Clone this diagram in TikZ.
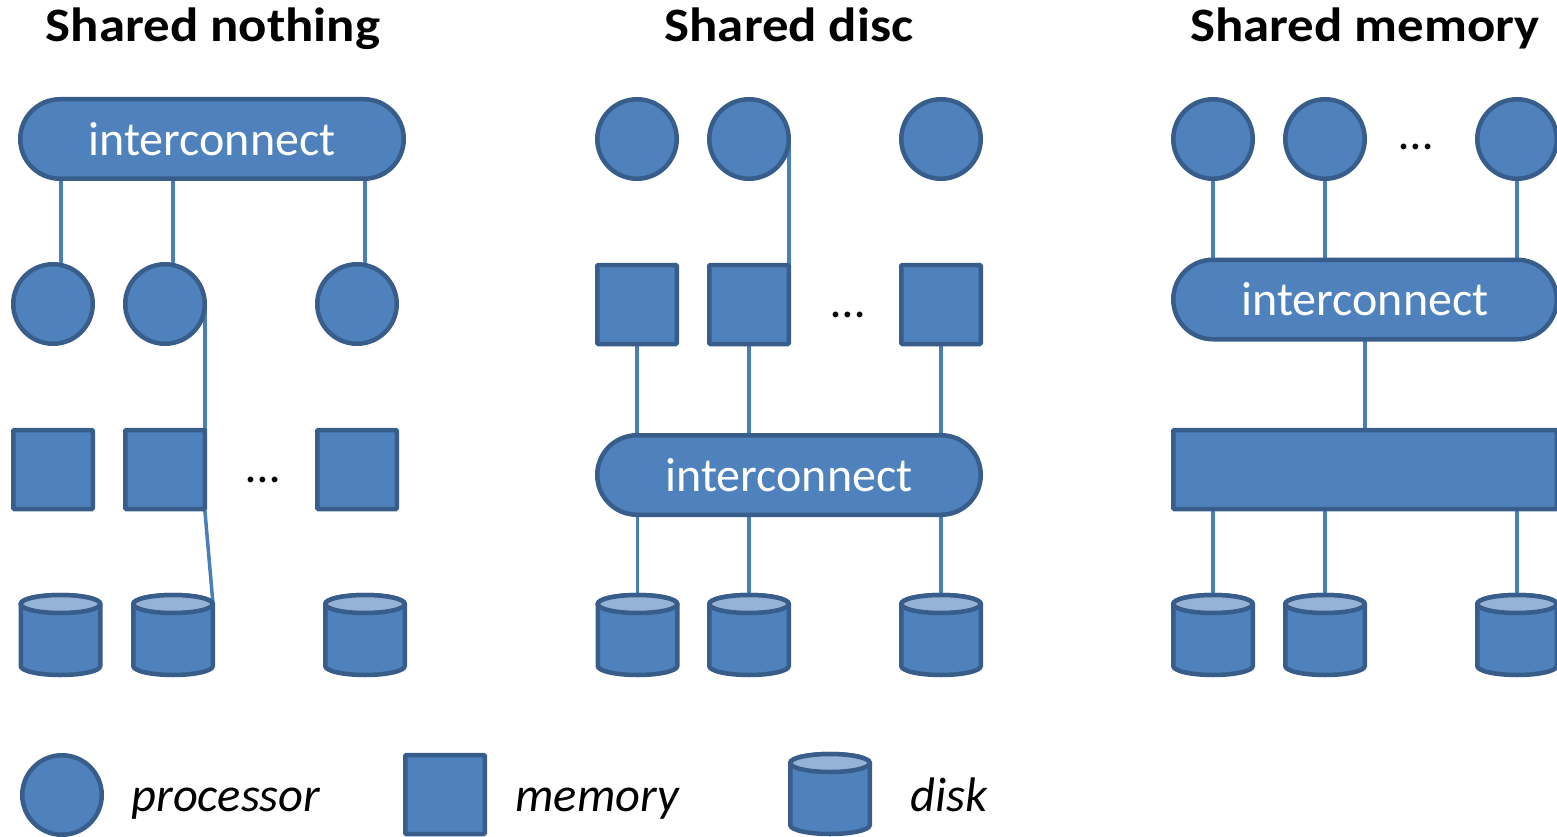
\documentclass[tikz,border=0pt]{standalone}
\usepackage{graphicx}
\usepackage{fontspec}
\setmainfont{Carlito}
\usetikzlibrary{backgrounds}
\definecolor{boxfill}{HTML}{4F81BD}
\definecolor{boxline}{HTML}{385D8A}
\definecolor{wirecol}{HTML}{4A7EBB}
\definecolor{disktop}{HTML}{95B3D7}
\newcommand{\widetitle}[1]{\scalebox{1.1}[1]{#1}}
\tikzset{
  unit/.style={draw=boxline, fill=boxfill, line width=4.5pt, inner sep=0pt, outer sep=0pt},
  proc/.style={unit, circle, minimum size=79.5pt},
  mem/.style={unit, rectangle, rounded corners=1pt, minimum width=79.5pt, minimum height=79pt},
  bigmem/.style={mem, minimum width=383.5pt},
  bus/.style={unit, rectangle, rounded corners=39.7pt, minimum width=383.5pt, minimum height=79.5pt, text=white, font=\fontsize{48}{48}\selectfont},
  diskbox/.style={inner sep=0pt, outer sep=0pt, minimum width=84pt, minimum height=84pt},
  wire/.style={draw=wirecol, line width=3.5pt},
  title/.style={font=\fontsize{48}{48}\selectfont\bfseries, anchor=base},
  lbl/.style={font=\fontsize{48.5}{48.5}\selectfont\itshape, anchor=base west},
  dots/.style={font=\fontsize{48}{48}\selectfont},
}
\newcommand{\diskat}[3]{%
  \node[diskbox, anchor=north] (#1) at (#2,-#3) {};
  \path[unit] (#2-39.75,-#3-11) -- (#2-39.75,-#3-73)
    arc[start angle=180, end angle=360, x radius=39.75, y radius=9]
    -- (#2+39.75,-#3-11)
    arc[start angle=0, end angle=180, x radius=39.75, y radius=9] -- cycle;
  \path[unit, fill=disktop] (#2,-#3-11) ellipse[x radius=39.75, y radius=9];
}
\begin{document}
\begin{tikzpicture}[x=1pt, y=1pt]
\useasboundingbox (0,0) rectangle (1557,-837);
\clip (0,0) rectangle (1557,-837);

% titles
\node[title] (t1) at (213,-42) {\widetitle{Shared nothing}};
\node[title] (t2) at (789,-42) {\widetitle{Shared disc}};
\node[title] (t3) at (1365,-42) {\widetitle{Shared memory}};

% ---- Shared nothing
\node[bus] (ic1) at (212,-139) {interconnect};
\node[proc] (p11) at (53,-304) {};
\node[proc] (p12) at (165,-304) {};
\node[proc] (p13) at (357,-304) {};
\node[mem] (m11) at (53,-469.5) {};
\node[mem] (m12) at (165,-469.5) {};
\node[mem] (m13) at (357,-469.5) {};
\node[dots] (e1) at (263,-480) {…};
\diskat{d11}{60.5}{593}
\diskat{d12}{173}{593}
\diskat{d13}{365}{593}

% ---- Shared disc
\node[proc] (p21) at (637,-139) {};
\node[proc] (p22) at (749,-139) {};
\node[proc] (p23) at (941,-139) {};
\node[mem] (m21) at (637,-304.5) {};
\node[mem] (m22) at (749,-304.5) {};
\node[mem] (m23) at (941,-304.5) {};
\node[dots] (e2) at (848,-315) {…};
\node[bus] (ic2) at (789,-475) {interconnect};
\diskat{d21}{637.5}{593}
\diskat{d22}{749}{593}
\diskat{d23}{941}{593}

% ---- Shared memory
\node[proc] (p31) at (1213,-139) {};
\node[proc] (p32) at (1325,-139) {};
\node[proc] (p33) at (1517,-139) {};
\node[dots] (e3) at (1416,-147) {…};
\node[bus] (ic3) at (1365,-299.5) {interconnect};
\node[bigmem] (mm3) at (1365,-469.5) {};
\diskat{d31}{1213}{593}
\diskat{d32}{1325}{593}
\diskat{d33}{1517}{593}

% ---- legend
\node[proc] (lp) at (62,-795) {};
\node[lbl] (lpt) at (128,-811) {processor};
\node[mem] (lm) at (445,-794.5) {};
\node[lbl] (lmt) at (512,-811) {memory};
\diskat{ld}{830}{752}
\node[lbl] (ldt) at (907,-811) {disk};

% ---- connectors
\begin{scope}[on background layer]
  \path (p11.center) ++(8,0) coordinate (k11);
  \path (p12.center) ++(8,0) coordinate (k12);
  \path (p13.center) ++(8,0) coordinate (k13);
  \draw[wire] (k11) -- (k11 |- ic1.center);
  \draw[wire] (k12) -- (k12 |- ic1.center);
  \draw[wire] (k13) -- (k13 |- ic1.center);
  \draw[wire] (m12.north east |- p12.center) -- (m12.north east);
  \draw[wire] (m12.south east) -- ([shift={(-2,-11)}]d12.north east);

  \draw[wire] (m22.north east |- p22.center) -- (m22.north east);
  \foreach \i in {1,2,3} {
    \draw[wire] (m2\i.center) -- (m2\i.center |- ic2.center);
    \draw[wire] (d2\i.center |- ic2.center) -- (d2\i.center);
  }

  \foreach \i in {1,2,3} {
    \draw[wire] (p3\i.center) -- (p3\i.center |- ic3.center);
    \draw[wire] (d3\i.center |- mm3.center) -- (d3\i.center);
  }
  \draw[wire] (ic3.center) -- (mm3.center);
\end{scope}
\end{tikzpicture}
\end{document}
